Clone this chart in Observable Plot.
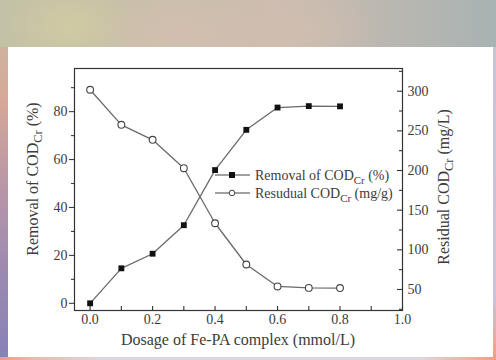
<!DOCTYPE html>
<html><head><meta charset="utf-8">
<script src="https://cdn.jsdelivr.net/npm/d3@7"></script>
<script src="https://cdn.jsdelivr.net/npm/@observablehq/plot@0.6"></script>
<style>
html,body{margin:0;padding:0;width:496px;height:360px;overflow:hidden;}
body{position:relative;background:linear-gradient(to bottom,#c9bca4 0px,#d6a898 100px,#b895a8 190px,#9a89b2 280px,#8a82b6 350px,#8a82b6 360px);}
#top{position:absolute;left:0;top:0;width:496px;height:47px;
 background:
  radial-gradient(ellipse 60px 40px at 70px 25px, rgba(212,206,160,0.7), rgba(212,206,160,0) 100%),
  radial-gradient(ellipse 80px 40px at 175px 35px, rgba(214,190,178,0.8), rgba(214,190,178,0) 100%),
  radial-gradient(ellipse 90px 45px at 290px 30px, rgba(210,190,176,0.8), rgba(210,190,176,0) 100%),
  linear-gradient(to right,#c4c2a6 0%,#c9c0aa 30%,#cdbdb0 55%,#bdb8b0 75%,#a8b3b3 100%);}
#right{position:absolute;left:493px;top:47px;width:3px;height:313px;background:linear-gradient(to bottom,#c9c4d4,#cbc3db 80%,#f0a07e 100%);}
#bottom{position:absolute;left:0;top:357px;width:496px;height:3px;background:linear-gradient(to right,#f09c7a 0%,#e9b8a8 6%,#ddd6dc 20%,#ddd6dc 85%,#f0a07e 100%);}
#card{position:absolute;left:8px;top:47px;width:485px;height:310px;background:#fff;}
#chart{position:absolute;left:0;top:0;}
</style>
</head><body>
<div id="top"></div><div id="right"></div><div id="bottom"></div>
<div id="card"></div>
<div id="chart"></div>
<script>
// ---- data ----
const dosage   = [0.0, 0.1, 0.2, 0.3, 0.4, 0.5, 0.6, 0.7, 0.8];
const removal  = [0.0, 14.6, 20.7, 32.6, 55.6, 72.4, 81.7, 82.3, 82.2];   // %
const residual = [301.8, 257.6, 238.7, 202.9, 133.5, 81.5, 53.8, 52.0, 51.8]; // mg/L
const xMajorTicks = [0, 0.2, 0.4, 0.6, 0.8, 1.0];
const xAllTicks   = [0, 0.1, 0.2, 0.3, 0.4, 0.5, 0.6, 0.7, 0.8, 0.9, 1.0];
const leftMajorTicks  = [0, 20, 40, 60, 80];
const leftMinorTicks  = [10, 30, 50, 70, 90];
const rightMajorTicks = [50, 100, 150, 200, 250, 300];
const rightMinorTicks = [25, 75, 125, 175, 225, 275, 325];

// ---- scales ----
const xDomain = [-0.05, 1.0];
const yDomain = [-3, 98];
const rDomain = [23.5, 328.6];
const toLeft = r => yDomain[0] + (r - rDomain[0]) * (yDomain[1] - yDomain[0]) / (rDomain[1] - rDomain[0]);
const fromLeft = y => rDomain[0] + (y - yDomain[0]) * (rDomain[1] - rDomain[0]) / (yDomain[1] - yDomain[0]);

const W = 496, H = 360;
const mL = 74, mT = 68, mR = 94, mB = 50;
const pxY = (yDomain[1] - yDomain[0]) / (H - mT - mB); // data units per px
const pxX = (xDomain[1] - xDomain[0]) / (W - mL - mR);

const remData = dosage.map((x, i) => ({x, y: removal[i]}));
const resData = dosage.map((x, i) => ({x, y: toLeft(residual[i])}));

const textColor = "#3c3c3c";
const plot = Plot.plot({
  width: W, height: H,
  marginLeft: mL, marginTop: mT, marginRight: mR, marginBottom: mB,
  style: {background: "transparent", fontFamily: "'Liberation Serif', serif", fontSize: "14px", color: textColor},
  x: {domain: xDomain},
  y: {domain: yDomain},
  marks: [
    Plot.line(remData, {x: "x", y: "y", stroke: "#6a6a6a", strokeWidth: 1.3}),
    Plot.line(resData, {x: "x", y: "y", stroke: "#6a6a6a", strokeWidth: 1.3}),
    Plot.dot(remData, {x: "x", y: "y", symbol: "square", r: 3.3, fill: "#111", stroke: "none"}),
    Plot.dot(resData, {x: "x", y: "y", symbol: "circle", r: 3.4, fill: "#fff", stroke: "#444", strokeWidth: 1.1}),
    // bottom axis: labels + inward ticks
    Plot.axisX(xMajorTicks, {tickSize: 0, tickPadding: 4, tickFormat: d3.format(".1f"), label: null}),
    Plot.ruleX(xAllTicks, {x: d => d, y1: yDomain[0], y2: yDomain[0] + 4 * pxY, stroke: "#333", strokeWidth: 1.1}),
    // left axis
    Plot.axisY(leftMajorTicks, {tickSize: 5, tickPadding: 2, label: null, strokeWidth: 1.1}),
    Plot.axisY(leftMinorTicks, {tickSize: 3, tickFormat: () => "", label: null, strokeWidth: 1.1}),
    // right axis (inward ticks)
    Plot.axisY(rightMajorTicks.map(toLeft), {anchor: "right", tickSize: 0, tickPadding: 5, tickFormat: d => String(Math.round(fromLeft(d))), label: null}),
    Plot.ruleY(rightMajorTicks, {y: d => toLeft(d), x1: xDomain[1] - 5 * pxX, x2: xDomain[1], stroke: "#333", strokeWidth: 1.1}),
    Plot.ruleY(rightMinorTicks, {y: d => toLeft(d), x1: xDomain[1] - 3 * pxX, x2: xDomain[1], stroke: "#333", strokeWidth: 1.1}),
    Plot.frame({stroke: "#333", strokeWidth: 1.2})
  ]
});
document.getElementById("chart").appendChild(plot);

// ---- titles & legend ----
const svg = d3.select(plot);
const font = "'Liberation Serif', serif";
function richText(g, parts, size, anchor) {
  const t = g.append("text").attr("font-family", font).attr("font-size", size).attr("fill", textColor)
    .attr("text-anchor", anchor);
  parts.forEach(p => {
    const ts = t.append("tspan").text(p.t);
    if (p.sub) ts.attr("font-size", size * 0.78).attr("dy", size * 0.28);
    if (p.after) ts.attr("dy", -size * 0.28);
  });
  return t;
}
// x title
richText(svg, [{t: "Dosage of Fe-PA complex (mmol/L)"}], 16, "middle")
  .attr("x", 238).attr("y", 345);
// left title
richText(svg.append("g").attr("transform", "translate(38,179) rotate(-90)"),
  [{t: "Removal of COD"}, {t: "Cr", sub: true}, {t: " (%)", after: true}], 16, "middle");
// right title
richText(svg.append("g").attr("transform", "translate(449,187) rotate(-90)"),
  [{t: "Residual COD"}, {t: "Cr", sub: true}, {t: " (mg/L)", after: true}], 16, "middle");

// legend
const leg = svg.append("g");
const rows = [
  {y: 175, sym: "square", parts: [{t: "Removal of COD"}, {t: "Cr", sub: true}, {t: " (%)", after: true}]},
  {y: 193, sym: "circle", parts: [{t: "Resudual COD"}, {t: "Cr", sub: true}, {t: " (mg/g)", after: true}]}
];
rows.forEach(r => {
  leg.append("line").attr("x1", 215).attr("x2", 250).attr("y1", r.y).attr("y2", r.y).attr("stroke", "#444").attr("stroke-width", 1.2);
  if (r.sym === "square") leg.append("rect").attr("x", 229).attr("y", r.y - 3).attr("width", 6).attr("height", 6).attr("fill", "#111");
  else leg.append("circle").attr("cx", 232).attr("cy", r.y).attr("r", 2.8).attr("fill", "#fff").attr("stroke", "#444").attr("stroke-width", 1);
  richText(leg, r.parts, 14, "start").attr("x", 255).attr("y", r.y + 5);
});
</script>
</body></html>
